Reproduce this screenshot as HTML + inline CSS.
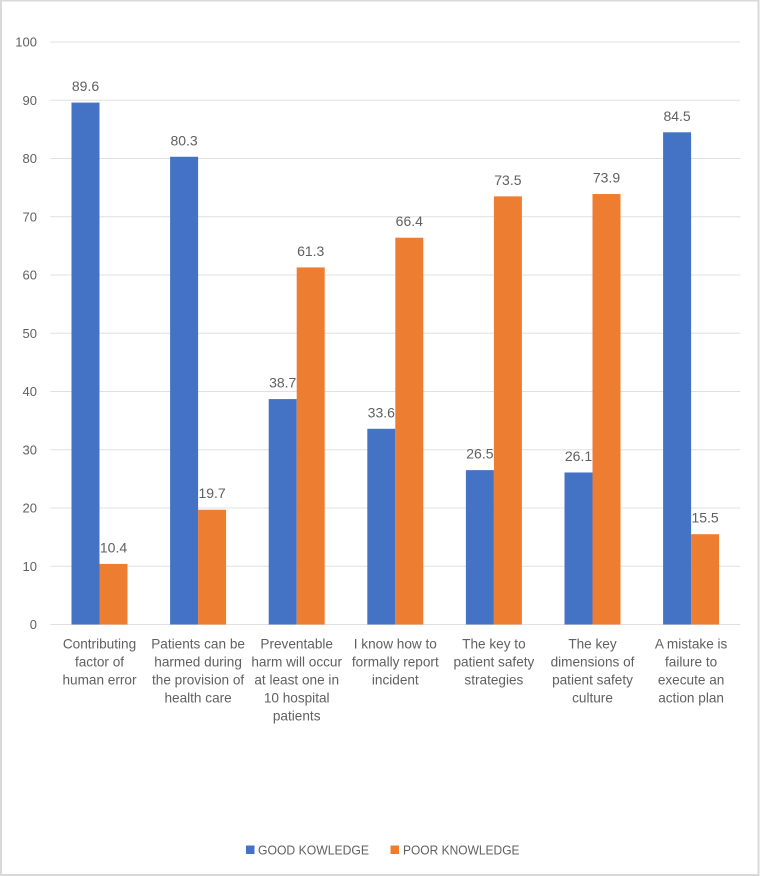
<!DOCTYPE html>
<html lang="en">
<head>
<meta charset="utf-8">
<title>Patient safety knowledge chart</title>
<style>
html,body{margin:0;padding:0;background:#fff;}
body{width:760px;height:876px;overflow:hidden;}
svg{display:block;filter:blur(0.35px);}
text{font-family:"Liberation Sans",sans-serif;fill:#606060;}
</style>
</head>
<body>
<svg id="chart" xmlns="http://www.w3.org/2000/svg" width="760" height="876" viewBox="0 0 760 876">
  <rect x="1" y="0.5" width="757.5" height="874.5" fill="#fff" stroke="#d9d9d9" stroke-width="2"/>
  <g id="grid"></g>
  <g id="yticks"></g>
  <g id="bars"></g>
  <g id="values"></g>
  <g id="xlabels"></g>
  <g>
    <g>
      <rect x="246" y="845.5" width="8.5" height="8.5" fill="#4472c4"/>
      <text x="258" y="854.5" font-size="12.5" textLength="111" lengthAdjust="spacingAndGlyphs">GOOD KOWLEDGE</text>
    </g>
    <g>
      <rect x="390.5" y="845.5" width="8.5" height="8.5" fill="#ed7d31"/>
      <text x="403" y="854.5" font-size="12.5" textLength="116.5" lengthAdjust="spacingAndGlyphs">POOR KNOWLEDGE</text>
    </g>
  </g>
</svg>
<script>
const categories = [
  ["Contributing", "factor of", "human error"],
  ["Patients can be", "harmed during", "the provision of", "health care"],
  ["Preventable", "harm will occur", "at least one in", "10 hospital", "patients"],
  ["I know how to", "formally report", "incident"],
  ["The key to", "patient safety", "strategies"],
  ["The key", "dimensions of", "patient safety", "culture"],
  ["A mistake is", "failure to", "execute an", "action plan"]
];
const goodKnowledge = [89.6, 80.3, 38.7, 33.6, 26.5, 26.1, 84.5];
const poorKnowledge = [10.4, 19.7, 61.3, 66.4, 73.5, 73.9, 15.5];
const yTicks = [0, 10, 20, 30, 40, 50, 60, 70, 80, 90, 100];

const NS = "http://www.w3.org/2000/svg";
const plotLeft = 50.2, plotRight = 740.4, plotTop = 42, plotBottom = 624.5, yMax = 100;
const barWidth = 28;

function yScale(v) { return plotBottom - (v / yMax) * (plotBottom - plotTop); }
function xCenter(i) { return plotLeft + (i + 0.5) * (plotRight - plotLeft) / categories.length; }
function make(tag, attrs, parent) {
  const el = document.createElementNS(NS, tag);
  for (const k in attrs) el.setAttribute(k, attrs[k]);
  parent.appendChild(el);
  return el;
}

const gridG = document.getElementById("grid");
const ytG = document.getElementById("yticks");
const barsG = document.getElementById("bars");
const valG = document.getElementById("values");
const xlG = document.getElementById("xlabels");

yTicks.forEach(function (t) {
  const y = yScale(t);
  const line = make("line", {x1: plotLeft, x2: plotRight, y1: y, y2: y, stroke: "#e0e0e0", "stroke-width": 1}, gridG);
  
  
  const lab = make("text", {x: 37, y: y + 4.5, "text-anchor": "end", "font-size": 13}, ytG);
  
  
  lab.textContent = t;
});

function drawSeries(values, offset, color, seriesName) {
  values.forEach(function (v, i) {
    const cx = xCenter(i);
    const y = yScale(v);
    const r = make("rect", {x: cx + offset, y: y, width: barWidth, height: plotBottom - y, fill: color}, barsG);
    
    
    const t = make("text", {x: cx + offset + barWidth / 2, y: y - 11.5, "text-anchor": "middle", "font-size": 14}, valG);
    
    
    t.textContent = v.toFixed(1);
  });
}
drawSeries(goodKnowledge, -28, "#4472c4", "good");
drawSeries(poorKnowledge, 0, "#ed7d31", "poor");

categories.forEach(function (lines, i) {
  const t = make("text", {"text-anchor": "middle", "font-size": 13.6}, xlG);
  
  
  lines.forEach(function (s, j) {
    const sp = make("tspan", {x: xCenter(i), y: 648.5 + j * 18}, t);
    sp.textContent = s;
  });
});
</script>
</body>
</html>
